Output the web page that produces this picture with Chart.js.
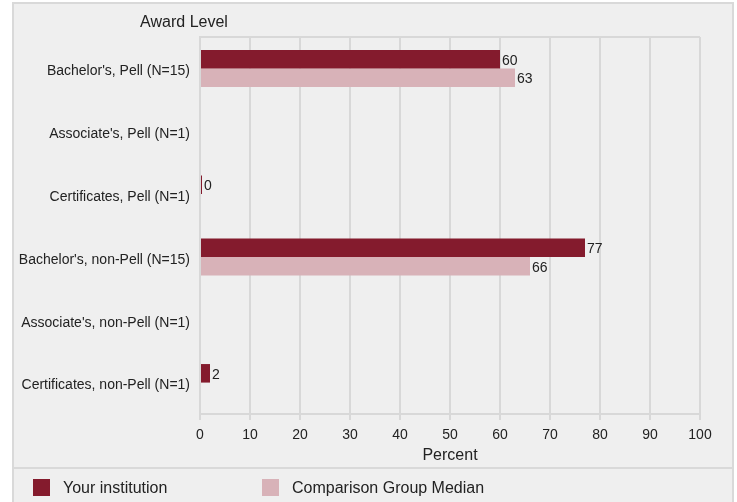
<!DOCTYPE html>
<html>
<head>
<meta charset="utf-8">
<script src="https://cdn.jsdelivr.net/npm/chart.js@4"></script>
<style>
  html, body { margin: 0; padding: 0; background: #ffffff; }
  #wrap { position: absolute; left: 0; top: 0; width: 737px; height: 502px; }
</style>
</head>
<body>
<div id="wrap"><canvas id="c" width="737" height="502"></canvas></div>
<script>
const categories = [
  "Bachelor's, Pell (N=15)",
  "Associate's, Pell (N=1)",
  "Certificates, Pell (N=1)",
  "Bachelor's, non-Pell (N=15)",
  "Associate's, non-Pell (N=1)",
  "Certificates, non-Pell (N=1)"
];
const yourInstitution = [60, null, 0, 77, null, 2];
const comparisonMedian = [63, null, null, 66, null, null];
const seriesNames = ["Your institution", "Comparison Group Median"];
const xTicks = [0, 10, 20, 30, 40, 50, 60, 70, 80, 90, 100];
const axisTitleY = "Award Level";
const axisTitleX = "Percent";

const FONT = "'Liberation Sans', Arial, Helvetica, sans-serif";
const TEXT = '#222222';
const GRID = '#d8d8d8';

const framePlugin = {
  id: 'frame',
  beforeDraw(chart) {
    const ctx = chart.ctx;
    ctx.save();
    ctx.fillStyle = '#ffffff';
    ctx.fillRect(0, 0, chart.width, chart.height);
    ctx.fillStyle = '#efefef';
    ctx.fillRect(13, 3, 720, 520);
    ctx.strokeStyle = '#d9d9d9';
    ctx.lineWidth = 2;
    ctx.strokeRect(13, 3, 720, 520);
    // separator above legend
    ctx.beginPath();
    ctx.moveTo(13, 468);
    ctx.lineTo(733, 468);
    ctx.stroke();
    ctx.restore();
  },
  beforeDatasetsDraw(chart) {
    const ctx = chart.ctx;
    const a = chart.chartArea;
    ctx.save();
    ctx.strokeStyle = GRID;
    ctx.lineWidth = 2;
    ctx.beginPath();
    ctx.moveTo(a.left, a.top);
    ctx.lineTo(a.right, a.top);
    ctx.stroke();
    ctx.restore();
  },
  afterDatasetsDraw(chart) {
    const ctx = chart.ctx;
    ctx.save();
    ctx.font = '14px ' + FONT;
    ctx.fillStyle = TEXT;
    ctx.textAlign = 'left';
    ctx.textBaseline = 'middle';
    chart.data.datasets.forEach((ds, di) => {
      const meta = chart.getDatasetMeta(di);
      meta.data.forEach((el, i) => {
        const v = ds.data[i];
        if (v === null || v === undefined) return;
        ctx.fillText(String(Math.round(v)), el.x + 2, el.y + 1.5);
      });
    });
    // y-axis title at top
    const a = chart.chartArea;
    ctx.font = '16px ' + FONT;
    ctx.textAlign = 'center';
    ctx.fillText(axisTitleY, a.left - 16, a.top - 14);
    // legend
    const legendX = [33, 262];
    ctx.font = '16px ' + FONT;
    ctx.textAlign = 'left';
    chart.data.datasets.forEach((ds, di) => {
      const x = legendX[di];
      ctx.fillStyle = ds.backgroundColor;
      ctx.fillRect(x, 479, 17, 17);
      ctx.fillStyle = TEXT;
      ctx.fillText(ds.label, x + 30, 489);
    });
    ctx.restore();
  }
};

new Chart(document.getElementById('c'), {
  type: 'bar',
  data: {
    labels: categories,
    datasets: [
      { label: seriesNames[0], data: yourInstitution, backgroundColor: '#841b2d', minBarLength: 2,
        categoryPercentage: 0.59, barPercentage: 1.0 },
      { label: seriesNames[1], data: comparisonMedian, backgroundColor: '#d8b2b8',
        categoryPercentage: 0.59, barPercentage: 1.0 }
    ]
  },
  options: {
    indexAxis: 'y',
    responsive: false,
    animation: false,
    layout: { padding: { left: 0, right: 37, top: 37, bottom: 34 } },
    plugins: {
      legend: { display: false },
      title: { display: false },
      tooltip: { enabled: false }
    },
    scales: {
      x: {
        type: 'linear',
        min: 0,
        max: 100,
        afterFit(scale) { scale.height = 54; },
        afterBuildTicks(scale) { scale.ticks = xTicks.map(v => ({ value: v })); },
        ticks: { color: TEXT, font: { family: FONT, size: 14 }, padding: 7, maxRotation: 0 },
        grid: { color: GRID, lineWidth: 2, drawTicks: true, tickLength: 6, tickColor: GRID },
        border: { display: true, color: GRID, width: 2 },
        title: { display: true, text: axisTitleX, color: TEXT, font: { family: FONT, size: 16 }, padding: { top: 0, bottom: 3 } }
      },
      y: {
        afterFit(scale) { scale.width = 200; },
        ticks: { color: TEXT, font: { family: FONT, size: 14 }, padding: 10, labelOffset: 3 },
        grid: { display: false, drawTicks: false },
        border: { display: true, color: GRID, width: 2 }
      }
    }
  },
  plugins: [framePlugin]
});
</script>
</body>
</html>
